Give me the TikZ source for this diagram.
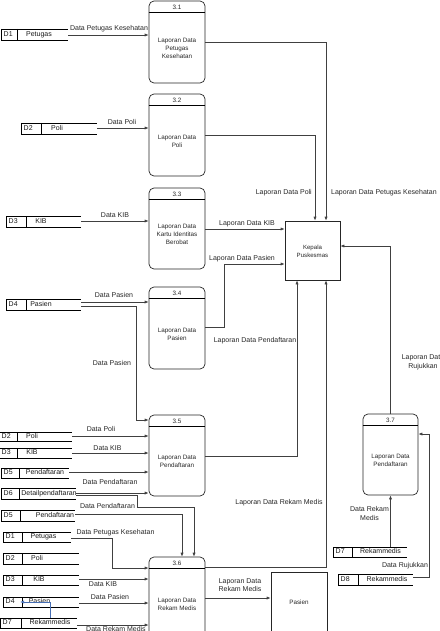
\documentclass[tikz,border=0pt]{standalone}
\usepackage{fontspec}
\setmainfont{Liberation Sans}
\usetikzlibrary{arrows.meta,fit}
\definecolor{bluel}{RGB}{70,110,180}
\newcommand\proc[7]{%
  \node[proc, minimum width=#4pt, minimum height=#5pt] (#1) at (#2,#3) {};
  \draw[hdr] (#1.north west) ++(0,12) -- ++(#4,0);
  \node[ptxt] (#1n) at ([yshift=-6.5pt]#1.north) {#6};
  \node[ptxt] (#1t) at ([yshift=-6pt]#1.center) {#7};
}
\newcommand\dstore[9]{%
  \node[fit={(#2,#5) (#4,#6)}, inner sep=0pt, outer sep=0pt] (#1) {};
  \draw[sline] (#2,#5) -- (#4,#5) (#2,#6) -- (#4,#6) (#2,#5) -- (#2,#6) (#3,#5) -- (#3,#6);
  \node[stxt, anchor=west] (#1i) at ({#2+2.5},{(#5+#6)/2}) {#7};
  \node[stxt] (#1l) at (#8,{(#5+#6)/2}) {#9};
}
\begin{document}
\begin{tikzpicture}[x=1pt,y=-1pt,
  proc/.style={draw=black!85, line width=0.7pt, rounded corners=5pt, inner sep=0pt},
  hdr/.style={draw=black, line width=0.8pt},
  ent/.style={draw=black!85, line width=0.7pt, inner sep=0pt},
  sline/.style={draw=black, line width=0.7pt},
  flow/.style={draw=black!75, line width=0.7pt, -{Latex[length=4pt,width=3.2pt]}},
  bflow/.style={draw=bluel, line width=0.7pt, -{Latex[length=4pt,width=3.2pt]}},
  lbl/.style={font=\fontsize{7}{8.5}\selectfont, inner sep=0pt, align=center, text=black!85, text height=5.2pt, text depth=1.4pt},
  ptxt/.style={font=\fontsize{6.3}{8}\selectfont, inner sep=0pt, align=center, text=black!85},
  stxt/.style={font=\fontsize{7}{8}\selectfont, inner sep=0pt, text=black!90, text height=5.2pt, text depth=1.4pt}
]
\useasboundingbox (0,0) rectangle (439,631);

% processes
\proc{p31}{177}{42}{56}{82}{3.1}{Laporan Data\\Petugas\\Kesehatan}
\proc{p32}{177}{135}{56}{82}{3.2}{Laporan Data\\Poli}
\proc{p33}{177}{228.5}{56}{81}{3.3}{Laporan Data\\Kartu Identitas\\Berobat}
\proc{p34}{177}{328}{56}{82}{3.4}{Laporan Data\\Pasien}
\proc{p35}{177}{455.5}{56}{81}{3.5}{Laporan Data\\Pendaftaran}
\proc{p36}{177}{598.5}{56}{83}{3.6}{Laporan Data\\Rekam Medis}
\proc{p37}{390.5}{454.5}{55}{81}{3.7}{Laporan Data\\Pendaftaran}

% external entities
\node[ent, minimum width=55pt, minimum height=59pt] (kep) at (312.5,250.5) {};
\node[ptxt, font=\fontsize{6.1}{8}\selectfont] (kept) at (312.5,251) {Kepala\\Puskesmas};
\node[ent, minimum width=56pt, minimum height=80pt] (pas) at (299,612) {};
\node[ptxt] (past) at (299,602) {Pasien};

% data stores
\dstore{d1a}{1}{17}{68}{29}{40}{D1}{39}{Petugas}
\dstore{d2a}{21}{41}{97}{123}{134}{D2}{57}{Poli}
\dstore{d3a}{6}{26}{81}{216}{227}{D3}{41}{KIB}
\dstore{d4a}{6}{26}{81}{299}{310}{D4}{41}{Pasien}
\dstore{d2b}{-1}{17}{72}{432}{441}{D2}{32}{Poli}
\dstore{d3b}{-1}{17}{72}{448}{458}{D3}{32}{KIB}
\dstore{d5a}{1}{19}{69}{468}{478}{D5}{45}{Pendaftaran}
\dstore{d6a}{1}{19}{76}{488}{499}{D6}{49}{Detailpendaftaran}
\dstore{d5b}{1}{20}{75}{510}{521}{D5}{55}{Pendaftaran}
\dstore{d1b}{3}{22}{71}{532}{542}{D1}{43.5}{Petugas}
\dstore{d2c}{3}{22}{79}{553}{564}{D2}{37}{Poli}
\dstore{d3c}{3}{22}{79}{575}{585}{D3}{39}{KIB}
\dstore{d4c}{3}{22}{79}{597}{607}{D4}{39.5}{Pasien}
\dstore{d7a}{0}{21}{77}{618}{628}{D7}{50}{Rekammedis}
\dstore{d7b}{333}{352}{407}{547}{557}{D7}{380.5}{Rekammedis}
\dstore{d8a}{338}{358}{413}{574}{585}{D8}{387}{Rekammedis}

% flows
\draw[flow] (d1a.east |- 0,35) -- (p31.west |- 0,35);
\draw[flow] (d2a.east |- 0,128) -- (p32.west |- 0,128);
\draw[flow] (d3a.east |- 0,221) -- (p33.west |- 0,221);
\draw[flow] (d4a.east |- 0,302) -- (p34.west |- 0,302);
\draw[flow] (d4a.east |- 0,306) -- (136,306) -- (136,420) -- (p35.west |- 0,420);
\draw[flow] (p31.east |- 0,42) -| (kep.north -| 326,0);
\draw[flow] (p32.east |- 0,135) -| (kep.north -| 315,0);
\draw[flow] (p33.east |- 0,229) -- (kep.west |- 0,229);
\draw[flow] (p34.east |- 0,327) -- (224,327) -- (224,264) -- (kep.west |- 0,264);
\draw[flow] (p35.east |- 0,456) -| (kep.south -| 297,0);
\draw[flow] (p36.east |- 0,567) -| (kep.south -| 326,0);
\draw[flow] (p37.north) |- (kep.east |- 0,246);
\draw[flow] (d7b.north -| p37.south) -- (p37.south);
\draw[flow] (d8a.east |- 0,577) -- (429,577) -- (429,434) -- (p37.east |- 0,434);
\draw[flow] (d2b.east |- 0,436) -- (p35.west |- 0,436);
\draw[flow] (d3b.east |- 0,453) -- (p35.west |- 0,453);
\draw[flow] (d5a.east |- 0,472) -- (p35.west |- 0,472);
\draw[flow] (d6a.east |- 0,493) -- (p35.west |- 0,493);
\draw[flow] (d6a.east |- 0,495) -- (137,495) -- (137,507) -| (p36.north -| 194,0);
\draw[flow] (d5b.east |- 0,514) -| (p36.north -| 182,0);
\draw[flow] (d1b.east |- 0,538) -- (112,538) |- (p36.west |- 0,568);
\draw[flow] (d3c.east |- 0,579) -- (p36.west |- 0,579);
\draw[flow] (d4c.east |- 0,603) -- (p36.west |- 0,603);
\draw[flow] (d7a.east |- 0,625) -- (p36.west |- 0,625);
\draw[flow] (p36.east |- 0,598) -- (pas.west |- 0,598);
\draw[bflow] (d7a.north -| 50,0) |- (d4c.west -| 20,0);

% labels
\node[lbl] (l1) at (109,29) {Data Petugas Kesehatan};
\node[lbl] (l2) at (122,123) {Data Poli};
\node[lbl] (l3) at (115,216) {Data KIB};
\node[lbl] (l4) at (114,296) {Data Pasien};
\node[lbl] (l5) at (112,364) {Data Pasien};
\node[lbl, anchor=west] (l6) at (331,193) {Laporan Data Petugas Kesehatan};
\node[lbl, anchor=east] (l7) at (312,193) {Laporan Data Poli};
\node[lbl] (l8) at (247,224) {Laporan Data KIB};
\node[lbl] (l9) at (242,259) {Laporan Data Pasien};
\node[lbl] (l10) at (255,341) {Laporan Data Pendaftaran};
\node[lbl] (l11) at (279,503) {Laporan Data Rekam Medis};
\node[lbl] (l12) at (423,366.5) {Laporan Data\\Rujukkan};
\node[lbl] (l13) at (369.5,518.5) {Data Rekam\\Medis};
\node[lbl] (l14) at (405,566) {Data Rujukkan};
\node[lbl] (l15) at (101,430) {Data Poli};
\node[lbl] (l16) at (107.5,449) {Data KIB};
\node[lbl] (l17) at (110,483) {Data Pendaftaran};
\node[lbl] (l18) at (107.5,507) {Data Pendaftaran};
\node[lbl] (l19) at (115.5,533) {Data Petugas Kesehatan};
\node[lbl] (l20) at (103,585) {Data KIB};
\node[lbl] (l21) at (110,598) {Data Pasien};
\node[lbl] (l22) at (116,630) {Data Rekam Medis};
\node[lbl] (l23) at (240,590) {Laporan Data\\Rekam Medis};
\end{tikzpicture}
\end{document}
